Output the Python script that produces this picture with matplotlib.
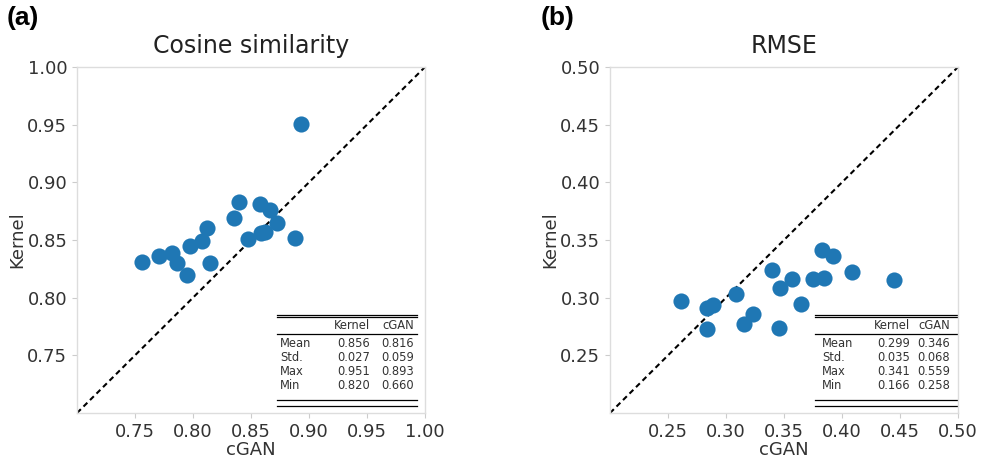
import numpy as np
import matplotlib
matplotlib.use('Agg')
from matplotlib import pyplot as plt

# (a) cosine similarity, cGAN vs Kernel
cos_cgan = [0.893, 0.840, 0.858, 0.866, 0.835, 0.872, 0.862, 0.859, 0.847, 0.888,
            0.812, 0.808, 0.797, 0.782, 0.771, 0.756, 0.786, 0.815, 0.795]
cos_kernel = [0.951, 0.883, 0.881, 0.876, 0.869, 0.865, 0.857, 0.856, 0.851, 0.852,
              0.860, 0.849, 0.845, 0.839, 0.836, 0.831, 0.830, 0.830, 0.820]

# (b) RMSE, cGAN vs Kernel
rmse_cgan = [0.261, 0.284, 0.289, 0.309, 0.284, 0.3155, 0.323, 0.3457, 0.340, 0.3466,
             0.357, 0.3647, 0.375, 0.3845, 0.409, 0.445, 0.383, 0.392]
rmse_kernel = [0.297, 0.291, 0.294, 0.3035, 0.273, 0.277, 0.286, 0.274, 0.324, 0.308,
               0.3165, 0.2948, 0.3165, 0.3174, 0.3226, 0.315, 0.341, 0.3365]

stat_names = ['Mean', 'Std.', 'Max', 'Min']
cos_stats_kernel = ['0.856', '0.027', '0.951', '0.820']
cos_stats_cgan = ['0.816', '0.059', '0.893', '0.660']
rmse_stats_kernel = ['0.299', '0.035', '0.341', '0.166']
rmse_stats_cgan = ['0.346', '0.068', '0.559', '0.258']

cos_ticks = [0.75, 0.80, 0.85, 0.90, 0.95, 1.00]
rmse_ticks = [0.25, 0.30, 0.35, 0.40, 0.45, 0.50]

plt.rcParams['font.family'] = 'DejaVu Sans'

fig = plt.figure(figsize=(9.83, 4.59), dpi=100)
ax1 = fig.add_axes([77/983, 46/459, 348/983, 346/459])
ax2 = fig.add_axes([610/983, 46/459, 348/983, 346/459])


def draw_table(ax, x0, x1, x_lab, x_k, x_c, names, vals_k, vals_c):
    tr = ax.transAxes
    kw = dict(transform=tr, color='black', lw=0.9, clip_on=False)
    for yy in [0.284, 0.277]:
        ax.plot([x0, x1], [yy, yy], **kw)
    ax.plot([x0, x1], [0.229, 0.229], **kw)
    for yy in [0.038, 0.019]:
        ax.plot([x0, x1], [yy, yy], **kw)
    fs = 8.3
    ax.text(x_k, 0.252, 'Kernel', transform=tr, ha='right', va='center', fontsize=fs, color='#333333')
    ax.text(x_c, 0.252, 'cGAN', transform=tr, ha='right', va='center', fontsize=fs, color='#333333')
    row_y = [0.202, 0.161, 0.121, 0.079]
    for name, vk, vc, yy in zip(names, vals_k, vals_c, row_y):
        ax.text(x_lab, yy, name, transform=tr, ha='left', va='center', fontsize=fs, color='#333333')
        ax.text(x_k, yy, vk, transform=tr, ha='right', va='center', fontsize=fs, color='#333333')
        ax.text(x_c, yy, vc, transform=tr, ha='right', va='center', fontsize=fs, color='#333333')


def style(ax, lo, hi, ticks, title):
    ax.plot([lo, hi], [lo, hi], 'k--', lw=1.5, dashes=(2.6, 1.8), zorder=1)
    ax.set_xlim(lo, hi)
    ax.set_ylim(lo, hi)
    ax.set_xticks(ticks)
    ax.set_yticks(ticks)
    ax.set_xticklabels(['%.2f' % t for t in ticks])
    ax.set_yticklabels(['%.2f' % t for t in ticks])
    for s in ax.spines.values():
        s.set_color('#dddddd')
        s.set_linewidth(1.0)
    ax.tick_params(colors='#cccccc', labelcolor='#333333', labelsize=13, length=3.5, width=0.8)
    ax.set_xlabel('cGAN', fontsize=13, color='#333333', labelpad=0)
    ax.set_ylabel('Kernel', fontsize=13, color='#333333', labelpad=1)
    ax.set_title(title, fontsize=17, color='#222222', pad=10)


ax1.scatter(cos_cgan, cos_kernel, s=135, color='#1f77b4', zorder=3, linewidths=0)
style(ax1, 0.70, 1.00, cos_ticks, 'Cosine similarity')
draw_table(ax1, 0.575, 0.977, 0.583, 0.842, 0.968, stat_names, cos_stats_kernel, cos_stats_cgan)

ax2.scatter(rmse_cgan, rmse_kernel, s=135, color='#1f77b4', zorder=3, linewidths=0)
style(ax2, 0.20, 0.50, rmse_ticks, 'RMSE')
draw_table(ax2, 0.589, 0.997, 0.609, 0.862, 0.977, stat_names, rmse_stats_kernel, rmse_stats_cgan)

fig.text(7/983, 1 - 18/459, '(a)', fontsize=19, fontweight='bold', family='Liberation Sans', va='center', ha='left')
fig.text(541/983, 1 - 18/459, '(b)', fontsize=19, fontweight='bold', family='Liberation Sans', va='center', ha='left')

fig.savefig('out.png', dpi=100)
